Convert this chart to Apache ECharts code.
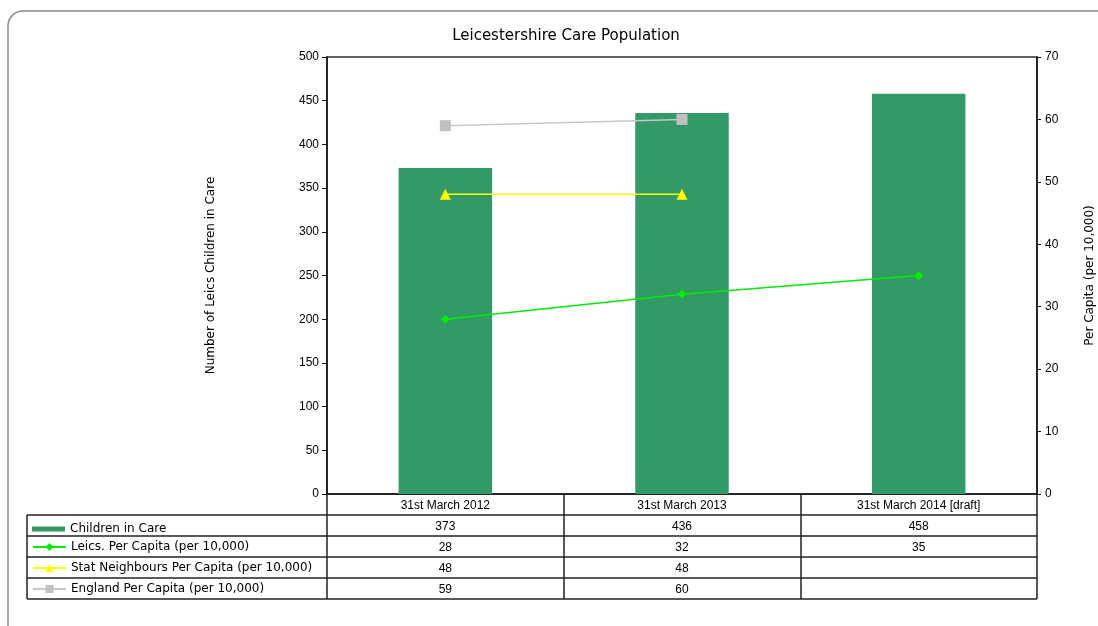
<!DOCTYPE html>
<html>
<head>
<meta charset="utf-8">
<script src="https://cdn.jsdelivr.net/npm/echarts@6/dist/echarts.min.js"></script>
<style>
  html, body { margin: 0; padding: 0; background: #fff; }
  #main { width: 1098px; height: 626px; }
</style>
</head>
<body>
<div id="main"></div>
<script>
// categories and values
const categories = ['31st March 2012', '31st March 2013', '31st March 2014 [draft]'];
const childrenInCare = [373, 436, 458];
const leicsPerCapita = [28, 32, 35];
const statNeighbours = [48, 48, null];
const englandPerCapita = [59, 60, null];
const leftTicks = { min: 0, max: 500, interval: 50 };
const rightTicks = { min: 0, max: 70, interval: 10 };

const seriesNames = [
  'Children in Care',
  'Leics. Per Capita (per 10,000)',
  'Stat Neighbours Per Capita (per 10,000)',
  'England Per Capita (per 10,000)'
];
const seriesData = [childrenInCare, leicsPerCapita, statNeighbours, englandPerCapita];

const FONT = '"Liberation Sans", Arial, sans-serif';
const WIDE = '"DejaVu Sans", sans-serif';
const gridLeft = 327, gridRight = 61, gridTop = 57, axisY = 494;
const rowH = 21;
const tableLeft = 27, tableRight = 1037;
const tableTop = axisY + rowH;           // first data row
const tableBottom = axisY + rowH * 5;

// cell text: category header, then one line per series
const cellText = (name, idx) => {
  const lines = [name];
  seriesData.forEach(d => lines.push(d[idx] == null ? ' ' : String(d[idx])));
  return lines.join('\n');
};

// row lines of the data table
const rowLines = [];
for (let i = 0; i <= 4; i++) {
  const y = tableTop + i * rowH;
  rowLines.push({
    type: 'line',
    shape: { x1: tableLeft, y1: y, x2: tableRight, y2: y },
    style: { stroke: '#222', lineWidth: 1.5 }
  });
}

// legend inside the left column of the table, one per row
const legends = seriesNames.map((n, i) => ({
  data: [{ name: n, icon: i === 0 ? 'rect' : undefined }],
  left: 32,
  top: tableTop + i * rowH + (i === 0 ? 8 : 5),
  padding: 0,
  itemWidth: 33,
  itemHeight: i === 0 ? 5 : 10,
  itemGap: 0,
  selectedMode: false,
  textStyle: { fontFamily: WIDE, fontSize: 12, color: '#000' }
}));

const option = {
  animation: false,
  backgroundColor: '#fff',
  title: {
    text: 'Leicestershire Care Population',
    left: 561,
    textAlign: 'center',
    top: 24,
    textStyle: { fontFamily: WIDE, fontSize: 15, fontWeight: 'normal', color: '#000' }
  },
  legend: legends,
  grid: {
    left: gridLeft,
    right: gridRight,
    top: gridTop,
    bottom: 626 - axisY,
    outerBoundsMode: 'none',
    containLabel: false,
    show: true,
    borderColor: '#333',
    borderWidth: 1.5,
    backgroundColor: 'transparent'
  },
  xAxis: {
    type: 'category',
    data: categories,
    boundaryGap: true,
    axisLine: { lineStyle: { color: '#111', width: 1.5 } },
    axisTick: { show: true, length: tableBottom - axisY, lineStyle: { color: '#222', width: 1.5 } },
    axisLabel: {
      margin: 1,
      interval: 0,
      fontFamily: FONT,
      fontSize: 12,
      color: '#000',
      lineHeight: rowH,
      formatter: (v, idx) => cellText(v, idx)
    }
  },
  yAxis: [
    {
      type: 'value',
      min: leftTicks.min,
      max: leftTicks.max,
      interval: leftTicks.interval,
      name: 'Number of Leics Children in Care',
      nameLocation: 'middle',
      nameGap: 110,
      nameRotate: 90,
      nameTextStyle: { fontFamily: WIDE, fontSize: 12, color: '#000' },
      axisLine: { show: true, lineStyle: { color: '#111', width: 1.5 } },
      axisTick: { show: true, length: 5, lineStyle: { color: '#111' } },
      axisLabel: { fontFamily: FONT, fontSize: 12, color: '#000', margin: 8 },
      splitLine: { show: false }
    },
    {
      type: 'value',
      min: rightTicks.min,
      max: rightTicks.max,
      interval: rightTicks.interval,
      name: 'Per Capita (per 10,000)',
      nameLocation: 'middle',
      nameGap: 47,
      nameRotate: 90,
      nameTextStyle: { fontFamily: WIDE, fontSize: 12, color: '#000' },
      axisLine: { show: true, lineStyle: { color: '#111', width: 1.5 } },
      axisTick: { show: true, length: 4, lineStyle: { color: '#111' } },
      axisLabel: { fontFamily: FONT, fontSize: 12, color: '#000', margin: 8 },
      splitLine: { show: false }
    }
  ],
  series: [
    {
      name: seriesNames[0],
      type: 'bar',
      yAxisIndex: 0,
      data: childrenInCare,
      barWidth: '39.5%',
      itemStyle: { color: '#339966' }
    },
    {
      name: seriesNames[1],
      type: 'line',
      yAxisIndex: 1,
      data: leicsPerCapita,
      symbol: 'diamond',
      symbolSize: 9,
      lineStyle: { color: '#00ee00', width: 1.5 },
      itemStyle: { color: '#00ee00' }
    },
    {
      name: seriesNames[2],
      type: 'line',
      yAxisIndex: 1,
      data: statNeighbours,
      symbol: 'triangle',
      symbolSize: 11,
      lineStyle: { color: '#ffff00', width: 1.5 },
      itemStyle: { color: '#ffff00' }
    },
    {
      name: seriesNames[3],
      type: 'line',
      yAxisIndex: 1,
      data: englandPerCapita,
      symbol: 'rect',
      symbolSize: 11,
      lineStyle: { color: '#c8c8c8', width: 1.5 },
      itemStyle: { color: '#c0c0c0' }
    }
  ],
  graphic: [
    {
      type: 'rect',
      shape: { x: 8, y: 11, width: 1110, height: 640, r: 15 },
      style: { fill: 'none', stroke: '#888', lineWidth: 1.5 },
      z: -1
    },
    {
      type: 'line',
      shape: { x1: tableLeft, y1: tableTop, x2: tableLeft, y2: tableBottom },
      style: { stroke: '#222', lineWidth: 1.5 }
    }
  ].concat(rowLines)
};

const chart = echarts.init(document.getElementById('main'), null, { renderer: 'canvas' });
chart.setOption(option);
</script>
</body>
</html>
